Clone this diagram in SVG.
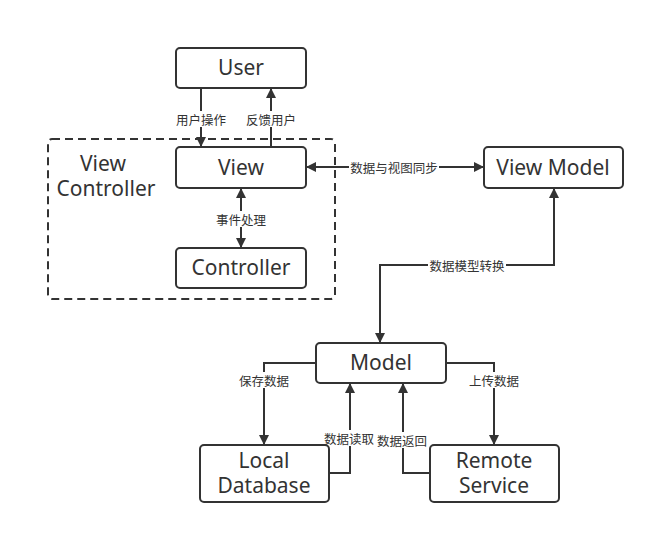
<svg xmlns="http://www.w3.org/2000/svg" width="654" height="533" viewBox="0 0 654 533">
<style>
.box{fill:#fff;stroke:#333;stroke-width:2}
.t{font-family:"Noto Sans","Open Sans","Noto Sans CJK SC",sans-serif;font-size:21px;fill:#333;text-anchor:middle;dominant-baseline:central}
.c{fill:none;stroke:#333;stroke-width:2}
.lbl{font-family:"Noto Sans CJK SC","Noto Sans",sans-serif;font-size:12.5px;fill:#333;text-anchor:middle;dominant-baseline:central}
.bg{fill:#fff}
</style>
<defs>
<marker id="ah" viewBox="0 0 10 10" refX="10" refY="5" markerWidth="5" markerHeight="5" orient="auto-start-reverse" markerUnits="strokeWidth">
<path d="M0,0 L10,5 L0,10 z" fill="#333"/>
</marker>
</defs>
<rect width="654" height="533" fill="#fff"/>
<g id="view-controller-group">
<rect x="48" y="139" width="287" height="160" rx="4" fill="none" stroke="#333" stroke-width="2" stroke-dasharray="8,5"/>
<text class="t" x="103" y="163">View</text>
<text class="t" x="106" y="188">Controller</text>
</g>
<g id="connectors">
<path class="c" d="M201,88 V147" marker-end="url(#ah)"/>
<path class="c" d="M271,147 V88" marker-end="url(#ah)"/>
<path class="c" d="M241,188 V248" marker-start="url(#ah)" marker-end="url(#ah)"/>
<path class="c" d="M306,167 H484" marker-start="url(#ah)" marker-end="url(#ah)"/>
<path class="c" d="M380,343 V265 H554 V188" marker-start="url(#ah)" marker-end="url(#ah)"/>
<path class="c" d="M316,363 H264 V445" marker-end="url(#ah)"/>
<path class="c" d="M446,363 H494 V445" marker-end="url(#ah)"/>
<path class="c" d="M329,473 H350 V383" marker-end="url(#ah)"/>
<path class="c" d="M430,473 H403 V383" marker-end="url(#ah)"/>
<rect class="bg" x="175" y="111" width="52" height="16"/>
<text class="lbl" x="201" y="119">用户操作</text>
<rect class="bg" x="245" y="111" width="52" height="16"/>
<text class="lbl" x="271" y="119">反馈用户</text>
<rect class="bg" x="215" y="211" width="52" height="16"/>
<text class="lbl" x="241" y="219">事件处理</text>
<rect class="bg" x="349" y="159" width="90" height="16"/>
<text class="lbl" x="394" y="167">数据与视图同步</text>
<rect class="bg" x="428" y="257" width="78" height="16"/>
<text class="lbl" x="467" y="265">数据模型转换</text>
<rect class="bg" x="238" y="372" width="52" height="16"/>
<text class="lbl" x="264" y="380">保存数据</text>
<rect class="bg" x="468" y="372" width="52" height="16"/>
<text class="lbl" x="494" y="380">上传数据</text>
<rect class="bg" x="323" y="430" width="52" height="16"/>
<text class="lbl" x="349" y="438">数据读取</text>
<rect class="bg" x="376" y="432" width="52" height="16"/>
<text class="lbl" x="402" y="440">数据返回</text>
</g>
<g id="user"><rect class="box" x="176" y="48" width="130" height="40" rx="4"/><text class="t" x="241" y="67">User</text></g>
<g id="view"><rect class="box" x="176" y="147" width="130" height="41" rx="4"/><text class="t" x="241" y="167">View</text></g>
<g id="controller"><rect class="box" x="176" y="248" width="130" height="40" rx="4"/><text class="t" x="241" y="267">Controller</text></g>
<g id="view-model"><rect class="box" x="484" y="147" width="139" height="41" rx="4"/><text class="t" x="553" y="167">View Model</text></g>
<g id="model"><rect class="box" x="316" y="343" width="130" height="40" rx="4"/><text class="t" x="381" y="362">Model</text></g>
<g id="local-database"><rect class="box" x="200" y="445" width="129" height="57" rx="4"/><text class="t" x="264" y="460">Local</text><text class="t" x="264" y="485">Database</text></g>
<g id="remote-service"><rect class="box" x="430" y="445" width="129" height="57" rx="4"/><text class="t" x="494" y="460">Remote</text><text class="t" x="494" y="485">Service</text></g>
</svg>
